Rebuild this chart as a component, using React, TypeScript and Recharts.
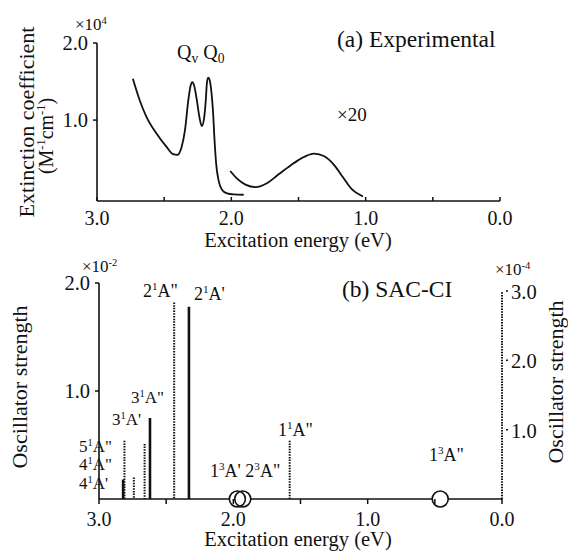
import {
  Bar,
  ComposedChart,
  Line,
  Scatter,
  XAxis,
  YAxis,
} from "recharts";

const INK = "#111";
const FONT = "'Liberation Serif', 'Times New Roman', serif";

// (a) experimental spectrum, Q band region (x10^4 M-1 cm-1), energy decreasing
const qBandEnergy = [
  2.733, 2.683, 2.632, 2.557, 2.482, 2.433, 2.403, 2.37, 2.345, 2.32, 2.302,
  2.29, 2.275, 2.257, 2.238, 2.22, 2.203, 2.19, 2.182, 2.173, 2.163, 2.15,
  2.137, 2.125, 2.113, 2.095, 2.07, 2.032, 1.983, 1.908,
];
const qBandEps = [
  1.535, 1.261, 1.043, 0.826, 0.652, 0.557, 0.548, 0.652, 0.87, 1.261, 1.456,
  1.491, 1.434, 1.261, 1.043, 0.922, 1.022, 1.261, 1.478, 1.552, 1.53, 1.391,
  1.13, 0.739, 0.435, 0.217, 0.096, 0.048, 0.035, 0.031,
];

// weak low-energy band, plotted x20
const weakEnergy = [
  2.008, 1.957, 1.895, 1.82, 1.732, 1.657, 1.557, 1.482, 1.383, 1.308, 1.233,
  1.17, 1.107, 1.02,
];
const weakEps = [
  0.339, 0.24, 0.162, 0.13, 0.183, 0.283, 0.413, 0.5, 0.565, 0.53, 0.413,
  0.261, 0.11, 0.009,
];

// (b) SAC-CI singlet excitations, oscillator strength x10^-2
const stateNames = ["4¹A'", "5¹A\"", "4¹A\"", "3¹A\"", "3¹A'", "2¹A\"", "2¹A'", "1¹A\""];
const stateEnergy = [2.82, 2.81, 2.74, 2.66, 2.62, 2.44, 2.33, 1.58];
const stateStrength = [0.18, 0.54, 0.2, 0.51, 0.75, 1.82, 1.78, 0.54];
const stateKind = ["solid", "dotted", "dotted", "dotted", "solid", "dotted", "solid", "dotted"];

// triplets, zero strength
const tripletNames = ["1³A'", "2³A\"", "1³A\""];
const tripletEnergy = [1.97, 1.93, 0.46];

const energyTicks = [0, 0.5, 1, 1.5, 2, 2.5, 3];
const epsTicks = [1, 2];
const leftTicks = [1, 2];
const rightTicks = [1, 2, 3];
// dotted right-hand axis (x10^-4 scale), drawn at 0 eV
const rightAxisEnergy = [0, 0];
const rightAxisValue = [0, 3];

const qBand = qBandEnergy.map((e, i) => ({ energy: e, eps: qBandEps[i] }));
const weak = weakEnergy.map((e, i) => ({ energy: e, eps: weakEps[i] }));
const states = stateEnergy.map((e, i) => ({
  name: stateNames[i],
  energy: e,
  f: stateStrength[i],
  kind: stateKind[i],
}));
const triplets = tripletEnergy.map((e, i) => ({ name: tripletNames[i], energy: e, f: 0 }));
const rightAxis = rightAxisEnergy.map((e, i) => ({ energy: e, r: rightAxisValue[i] }));

// text with ^x / ^{..} superscripts and _x subscripts
function Rich({ s, x, y, size, anchor = "start", transform }: any) {
  const re = /\^\{([^}]*)\}|\^(.)|_(.)/g;
  const out: any[] = [];
  let last = 0;
  let cur = 0;
  let k = 0;
  let m: RegExpExecArray | null;
  const push = (t: string, target: number, fs?: number) => {
    out.push(
      <tspan key={k++} dy={target - cur} fontSize={fs}>
        {t}
      </tspan>
    );
    cur = target;
  };
  while ((m = re.exec(s))) {
    if (m.index > last) push(s.slice(last, m.index), 0);
    const sup = m[1] ?? m[2];
    if (sup !== undefined) push(sup, -size * 0.38, size * 0.62);
    else push(m[3], size * 0.18, size * 0.68);
    last = re.lastIndex;
  }
  if (last < s.length) push(s.slice(last), 0);
  return (
    <text
      x={x}
      y={y}
      fontSize={size}
      fontFamily={FONT}
      fill={INK}
      textAnchor={anchor}
      transform={transform}
    >
      {out}
    </text>
  );
}

const topXTick = (p: any) => {
  const { x, y, payload } = p;
  const v = payload.value;
  const major = Math.abs(v - Math.round(v)) < 1e-6;
  return (
    <g>
      <line x1={x} x2={x} y1={y} y2={y - 4} stroke={INK} strokeWidth={1.5} />
      {major && (
        <text x={x} y={y + 24} textAnchor="middle" fontSize={20} fontFamily={FONT} fill={INK}>
          {v.toFixed(1)}
        </text>
      )}
    </g>
  );
};

const bottomXTick = (p: any) => {
  const { x, y, payload } = p;
  const v = payload.value;
  const major = Math.abs(v - Math.round(v)) < 1e-6;
  return (
    <g>
      <line x1={x} x2={x} y1={y} y2={y + 5} stroke={INK} strokeWidth={1.5} />
      {major && (
        <text x={x} y={y + 27} textAnchor="middle" fontSize={20} fontFamily={FONT} fill={INK}>
          {v.toFixed(1)}
        </text>
      )}
    </g>
  );
};

const leftYTick = (p: any) => {
  const { x, y, payload } = p;
  return (
    <g>
      <line x1={x} x2={x - 4} y1={y} y2={y} stroke={INK} strokeWidth={1.5} />
      <text x={x - 9} y={y + 7} textAnchor="end" fontSize={20.5} fontFamily={FONT} fill={INK}>
        {payload.value.toFixed(1)}
      </text>
    </g>
  );
};

const rightYTick = (p: any) => {
  const { x, y, payload } = p;
  return (
    <g>
      <line x1={x + 4} x2={x + 6} y1={y} y2={y} stroke={INK} strokeWidth={1.5} />
      <text x={x + 9} y={y + 8} textAnchor="start" fontSize={20.5} fontFamily={FONT} fill={INK}>
        {payload.value.toFixed(1)}
      </text>
    </g>
  );
};

const Stick = (p: any) => {
  const { x, y, width, height, payload } = p;
  const cx = x + width / 2;
  const dotted = payload.kind === "dotted";
  return (
    <line
      x1={cx}
      x2={cx}
      y1={y}
      y2={y + height}
      stroke={INK}
      strokeWidth={dotted ? 2 : 2.6}
      strokeDasharray={dotted ? "1.5 1.2" : undefined}
    />
  );
};

const RingFill = (p: any) => <circle cx={p.cx} cy={p.cy} r={8} fill="#fff" />;
const Ring = (p: any) => (
  <circle cx={p.cx} cy={p.cy} r={8} fill="none" stroke={INK} strokeWidth={1.6} />
);

const axisLine = { stroke: INK, strokeWidth: 1.6 };

export default function App() {
  return (
    <div style={{ position: "absolute", left: 0, top: 0, width: 568, height: 554, background: "#fff" }}>
      <div style={{ position: "absolute", left: 0, top: 0 }}>
        <ComposedChart width={568} height={250} margin={{ top: 43, right: 68, bottom: 19, left: 37 }}>
          <XAxis
            dataKey="energy"
            type="number"
            domain={[0, 3]}
            reversed
            ticks={energyTicks}
            height={30}
            tickSize={0}
            tickMargin={0}
            tickLine={false}
            axisLine={axisLine}
            tick={topXTick}
          />
          <YAxis
            type="number"
            domain={[-0.05, 2]}
            ticks={epsTicks}
            width={60}
            tickSize={0}
            tickMargin={0}
            tickLine={false}
            axisLine={axisLine}
            tick={leftYTick}
          />
          <Line
            data={qBand}
            dataKey="eps"
            type="monotone"
            stroke={INK}
            strokeWidth={1.8}
            dot={false}
            isAnimationActive={false}
          />
          <Line
            data={weak}
            dataKey="eps"
            type="monotone"
            stroke={INK}
            strokeWidth={1.8}
            dot={false}
            isAnimationActive={false}
          />
        </ComposedChart>
      </div>
      <div style={{ position: "absolute", left: 0, top: 250 }}>
        <ComposedChart
          width={568}
          height={304}
          data={states}
          margin={{ top: 33, right: 16, bottom: 20, left: 39 }}
        >
          <XAxis
            dataKey="energy"
            type="number"
            domain={[0, 3]}
            reversed
            ticks={energyTicks}
            height={35}
            tickSize={0}
            tickMargin={0}
            tickLine={false}
            axisLine={axisLine}
            tick={bottomXTick}
          />
          <YAxis
            yAxisId="left"
            type="number"
            domain={[0, 2]}
            ticks={leftTicks}
            width={60}
            tickSize={0}
            tickMargin={0}
            tickLine={false}
            axisLine={axisLine}
            tick={leftYTick}
          />
          <YAxis
            yAxisId="right"
            orientation="right"
            type="number"
            domain={[0, 3.115]}
            ticks={rightTicks}
            width={50}
            tickSize={0}
            tickMargin={0}
            tickLine={false}
            axisLine={false}
            tick={rightYTick}
          />
          <Line
            yAxisId="right"
            data={rightAxis}
            dataKey="r"
            stroke={INK}
            strokeWidth={2}
            strokeDasharray="1.5 1.2"
            dot={false}
            isAnimationActive={false}
          />
          <Bar
            yAxisId="left"
            dataKey="f"
            barSize={4}
            shape={Stick}
            isAnimationActive={false}
          />
          <Scatter
            yAxisId="left"
            data={triplets}
            dataKey="f"
            shape={RingFill}
            isAnimationActive={false}
          />
          <Scatter
            yAxisId="left"
            data={triplets}
            dataKey="f"
            shape={Ring}
            isAnimationActive={false}
          />
        </ComposedChart>
      </div>
      <svg
        width={568}
        height={554}
        style={{ position: "absolute", left: 0, top: 0, pointerEvents: "none" }}
      >
        {/* panel (a) */}
        <Rich s="×10^4" x={75} y={30} size={17} />
        <Rich s="Q_v Q_0" x={177} y={59} size={20} />
        <Rich s="(a) Experimental" x={337} y={47} size={23.5} />
        <Rich s="×20" x={337} y={121} size={19} />
        <Rich s="Extinction coefficient" x={0} y={0} size={22} anchor="middle" transform="translate(34,122) rotate(-90)" />
        <Rich s="(M^{-1}cm^{-1})" x={0} y={0} size={20} anchor="middle" transform="translate(53,136) rotate(-90)" />
        <Rich s="Excitation energy (eV)" x={298} y={247} size={20.5} anchor="middle" />
        {/* panel (b) */}
        <Rich s="×10^{-2}" x={82} y={272} size={17} />
        <Rich s="×10^{-4}" x={495} y={275} size={17} />
        <Rich s="(b) SAC-CI" x={342} y={297} size={23.5} />
        <Rich s={"2^1A\""} x={143} y={297} size={18} />
        <Rich s="2^1A'" x={194} y={300} size={18} />
        <Rich s={"3^1A\""} x={131} y={403} size={17} />
        <Rich s="3^1A'" x={112} y={425} size={17} />
        <Rich s={"5^1A\""} x={79} y={452} size={17} />
        <Rich s={"4^1A\""} x={79} y={470} size={17} />
        <Rich s="4^1A'" x={79} y={489} size={17} />
        <Rich s={"1^3A' 2^3A\""} x={210} y={477} size={18} />
        <Rich s={"1^1A\""} x={278} y={436} size={18} />
        <Rich s={"1^3A\""} x={429} y={461} size={18} />
        <Rich s="Oscillator strength" x={0} y={0} size={22} anchor="middle" transform="translate(27,387) rotate(-90)" />
        <Rich s="Oscillator strength" x={0} y={0} size={22} anchor="middle" transform="translate(563,382) rotate(-90)" />
        <Rich s="Excitation energy (eV)" x={298} y={546} size={20.5} anchor="middle" />
      </svg>
    </div>
  );
}
